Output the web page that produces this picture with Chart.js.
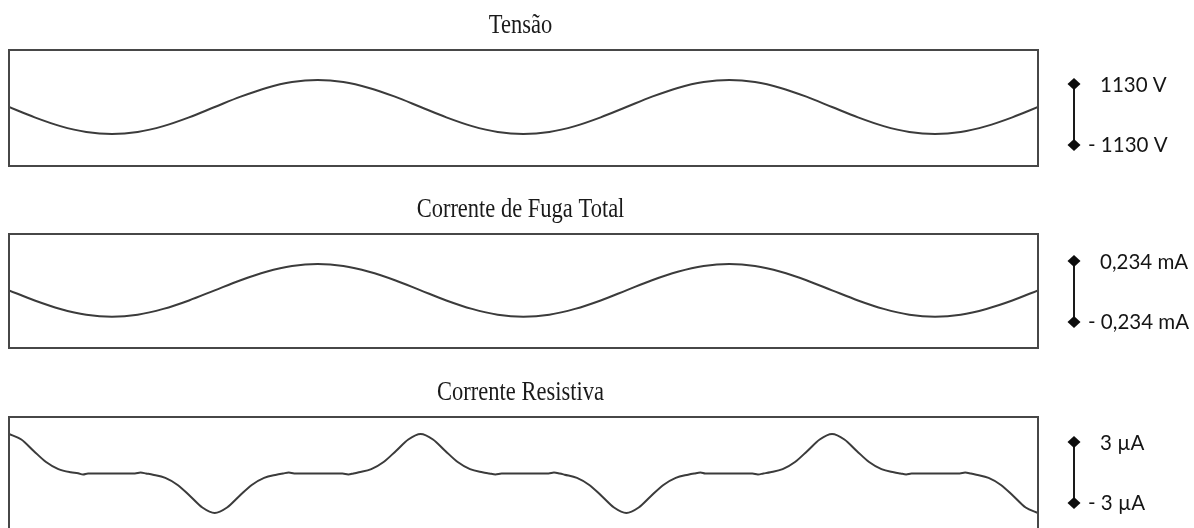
<!DOCTYPE html>
<html lang="pt">
<head>
<meta charset="utf-8">
<title>Tensão e correntes de fuga</title>
<script src="https://cdn.jsdelivr.net/npm/chart.js@4/dist/chart.umd.min.js"></script>
<style>
  html, body { margin: 0; padding: 0; background: #ffffff; }
  body { width: 1194px; height: 528px; overflow: hidden; position: relative; }
  .panel { position: absolute; left: 0; width: 1194px; height: 180px; }
</style>
</head>
<body>
<div class="panel" style="top:0px"><canvas id="cTensao"></canvas></div>
<div class="panel" style="top:180px"><canvas id="cFuga"></canvas></div>
<div class="panel" style="top:360px"><canvas id="cResistiva"></canvas></div>
<script>
// Sampling instants (ms) for the 60 Hz waveforms, two and a half cycles
const tSine = [0, 1.04, 2.08, 3.13, 4.17, 5.21, 6.25, 7.29, 8.33, 9.38, 10.42, 11.46,
  12.5, 13.54, 14.58, 15.63, 16.67, 17.71, 18.75, 19.79, 20.83, 21.88, 22.92, 23.96,
  25, 26.04, 27.08, 28.13, 29.17, 30.21, 31.25, 32.29, 33.33, 34.38, 35.42, 36.46,
  37.5, 38.54, 39.58, 40.63, 41.67];

// Applied voltage (V)
const tensao = [0, -432, -799, -1044, -1130, -1044, -799, -432, 0, 432, 799, 1044,
  1130, 1044, 799, 432, 0, -432, -799, -1044, -1130, -1044, -799, -432,
  0, 432, 799, 1044, 1130, 1044, 799, 432, 0, -432, -799, -1044,
  -1130, -1044, -799, -432, 0];

// Total leakage current (mA)
const correnteFuga = [0, -0.090, -0.165, -0.216, -0.234, -0.216, -0.165, -0.090, 0, 0.090, 0.165, 0.216,
  0.234, 0.216, 0.165, 0.090, 0, -0.090, -0.165, -0.216, -0.234, -0.216, -0.165, -0.090,
  0, 0.090, 0.165, 0.216, 0.234, 0.216, 0.165, 0.090, 0, -0.090, -0.165, -0.216,
  -0.234, -0.216, -0.165, -0.090, 0];

// Resistive current sampling instants (ms)
const tRes = [0, 0.5, 1.0, 1.5, 2.0, 2.5, 2.8, 3.0, 3.2, 5.1,
  5.33, 5.55, 5.83, 6.33, 6.83, 7.33, 7.83, 8.33, 8.83, 9.33, 9.83, 10.33, 10.83, 11.1, 11.33, 11.55, 13.5,
  13.74, 13.95, 14.17, 14.67, 15.17, 15.67, 16.17, 16.67, 17.17, 17.67, 18.17, 18.67, 19.17, 19.45, 19.7, 19.95, 21.85,
  22.07, 22.3, 22.5, 23.0, 23.5, 24.0, 24.5, 25.0, 25.5, 26.0, 26.5, 27.0, 27.5, 27.75, 28.0, 28.2, 30.1,
  30.33, 30.55, 30.83, 31.33, 31.83, 32.33, 32.83, 33.33, 33.83, 34.33, 34.83, 35.33, 35.83, 36.1, 36.33, 36.55, 38.5,
  38.72, 38.95, 39.17, 39.67, 40.17, 40.67, 41.17, 41.67];

// Resistive current (µA)
const correnteResistiva = [3.0, 2.58, 1.71, 0.87, 0.33, 0.09, 0.02, -0.08, 0, 0,
  0.07, 0, -0.09, -0.33, -0.87, -1.71, -2.58, -3.0, -2.58, -1.71, -0.87, -0.33, -0.09, 0, 0.07, 0, 0,
  -0.07, 0, 0.09, 0.33, 0.87, 1.71, 2.58, 3.0, 2.58, 1.71, 0.87, 0.33, 0.09, 0, -0.07, 0, 0,
  0.07, 0, -0.09, -0.33, -0.87, -1.71, -2.58, -3.0, -2.58, -1.71, -0.87, -0.33, -0.09, 0, 0.07, 0, 0,
  -0.07, 0, 0.09, 0.33, 0.87, 1.71, 2.58, 3.0, 2.58, 1.71, 0.87, 0.33, 0.09, 0, -0.07, 0, 0,
  0.07, 0, -0.09, -0.33, -0.87, -1.71, -2.58, -3.0];

// Panel titles and scale-bar amplitudes with their labels
const titulos = ['Tensão', 'Corrente de Fuga Total', 'Corrente Resistiva'];
const escalaValores = [1130, 0.234, 3];
const escalaRotulos = [['1130 V', '- 1130 V'], ['0,234 mA', '- 0,234 mA'], ['3 µA', '- 3 µA']];

function pontos(ts, vs) { return ts.map((t, i) => ({ x: t, y: vs[i] })); }

// Frame, title and the ± scale bar on the right of each panel
const painel = {
  id: 'painel',
  afterDatasetsDraw(chart, args, opts) {
    const ctx = chart.ctx, a = chart.chartArea, bar = chart.scales.bar;
    ctx.save();
    ctx.strokeStyle = '#474747';
    ctx.lineWidth = 2;
    ctx.strokeRect(a.left, a.top, a.right - a.left, a.bottom - a.top);

    ctx.fillStyle = '#1a1a1a';
    ctx.font = '22.5px "Liberation Serif", "Times New Roman", serif';
    ctx.textAlign = 'center';
    ctx.textBaseline = 'alphabetic';
    ctx.save();
    ctx.translate((a.left + a.right) / 2 - 3, a.top - 17);
    ctx.scale(1, 1.2);
    ctx.fillText(opts.titulo, 0, 0);
    ctx.restore();

    const yTop = bar.getPixelForValue(opts.valor);
    const yBot = bar.getPixelForValue(-opts.valor);
    const bx = a.right + 36;
    ctx.strokeStyle = '#1a1a1a';
    ctx.fillStyle = '#0d0d0d';
    ctx.lineWidth = 2;
    ctx.beginPath();
    ctx.moveTo(bx, yTop);
    ctx.lineTo(bx, yBot);
    ctx.stroke();
    [yTop, yBot].forEach(y => {
      ctx.beginPath();
      ctx.moveTo(bx, y - 6);
      ctx.lineTo(bx + 6.5, y);
      ctx.lineTo(bx, y + 6);
      ctx.lineTo(bx - 6.5, y);
      ctx.closePath();
      ctx.fill();
    });

    ctx.fillStyle = '#151515';
    ctx.font = '20.5px Lato, "Open Sans", sans-serif';
    ctx.textAlign = 'left';
    ctx.textBaseline = 'middle';
    ctx.fillText(opts.rotulos[0], a.right + 62, yTop + 1);
    ctx.fillText(opts.rotulos[1], a.right + 50, yBot);
    ctx.restore();
  }
};

function criarPainel(id, ts, vs, idx, yRange, barRange, padTop, padBottom) {
  return new Chart(document.getElementById(id), {
    type: 'line',
    data: {
      datasets: [{
        data: pontos(ts, vs),
        borderColor: '#3b3b3b',
        borderWidth: 2,
        pointRadius: 0,
        cubicInterpolationMode: 'monotone',
        fill: false
      }]
    },
    options: {
      responsive: true,
      maintainAspectRatio: false,
      animation: false,
      events: [],
      layout: { padding: { left: 9, right: 156, top: padTop, bottom: padBottom } },
      scales: {
        x: { type: 'linear', min: 0, max: 41.67, display: false },
        y: { min: yRange[0], max: yRange[1], display: false },
        bar: { position: 'right', min: barRange[0], max: barRange[1], display: false }
      },
      plugins: {
        legend: { display: false },
        tooltip: { enabled: false },
        painel: { titulo: titulos[idx], valor: escalaValores[idx], rotulos: escalaRotulos[idx] }
      }
    },
    plugins: [painel]
  });
}

criarPainel('cTensao', tSine, tensao, 0, [-2469, 2386], [-1908, 2390], 50, 14);
criarPainel('cFuga', tSine, correnteFuga, 1, [-0.512, 0.500], [-0.4335, 0.441], 54, 12);
criarPainel('cResistiva', tRes, correnteResistiva, 2, [-4.52, 4.29], [-5.95, 5.46], 57, 7);
</script>
</body>
</html>
